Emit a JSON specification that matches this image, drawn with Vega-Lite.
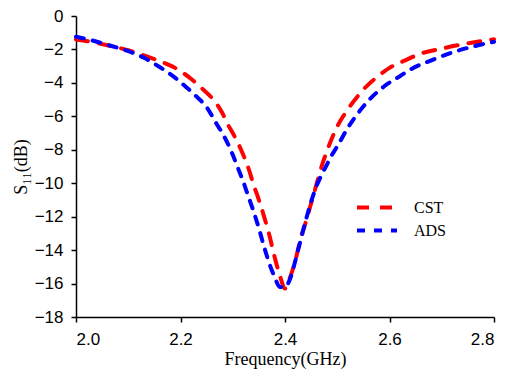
{
  "$schema": "https://vega.github.io/schema/vega-lite/v6.json",
  "width": 418,
  "height": 301,
  "autosize": "none",
  "padding": {"left": 76, "top": 16, "right": 22, "bottom": 62},
  "background": "white",
  "config": {
    "view": {"stroke": null},
    "axis": {
      "domainColor": "black",
      "domainWidth": 1.5,
      "tickColor": "black",
      "tickWidth": 1.5,
      "tickSize": 5,
      "labelColor": "black",
      "labelFont": "Liberation Sans",
      "labelFontSize": 17,
      "titleFont": "Liberation Serif",
      "titleFontSize": 18,
      "titleFontWeight": "normal",
      "titleColor": "black",
      "grid": false
    },
    "legend": {
      "labelFont": "Liberation Serif",
      "labelFontSize": 16,
      "labelColor": "black"
    }
  },
  "data": {
    "values": [
      {"f": 2.00, "s": -1.40, "sim": "CST"},
      {"f": 2.03, "s": -1.55, "sim": "CST"},
      {"f": 2.06, "s": -1.75, "sim": "CST"},
      {"f": 2.10, "s": -2.05, "sim": "CST"},
      {"f": 2.13, "s": -2.35, "sim": "CST"},
      {"f": 2.16, "s": -2.70, "sim": "CST"},
      {"f": 2.18, "s": -2.95, "sim": "CST"},
      {"f": 2.20, "s": -3.30, "sim": "CST"},
      {"f": 2.22, "s": -3.75, "sim": "CST"},
      {"f": 2.24, "s": -4.30, "sim": "CST"},
      {"f": 2.26, "s": -4.90, "sim": "CST"},
      {"f": 2.28, "s": -5.80, "sim": "CST"},
      {"f": 2.29, "s": -6.45, "sim": "CST"},
      {"f": 2.30, "s": -7.00, "sim": "CST"},
      {"f": 2.31, "s": -7.60, "sim": "CST"},
      {"f": 2.32, "s": -8.30, "sim": "CST"},
      {"f": 2.33, "s": -9.10, "sim": "CST"},
      {"f": 2.34, "s": -10.10, "sim": "CST"},
      {"f": 2.35, "s": -11.00, "sim": "CST"},
      {"f": 2.36, "s": -12.00, "sim": "CST"},
      {"f": 2.37, "s": -13.10, "sim": "CST"},
      {"f": 2.38, "s": -14.40, "sim": "CST"},
      {"f": 2.39, "s": -15.50, "sim": "CST"},
      {"f": 2.40, "s": -16.30, "sim": "CST"},
      {"f": 2.41, "s": -15.60, "sim": "CST"},
      {"f": 2.42, "s": -14.60, "sim": "CST"},
      {"f": 2.43, "s": -13.30, "sim": "CST"},
      {"f": 2.44, "s": -12.30, "sim": "CST"},
      {"f": 2.45, "s": -11.20, "sim": "CST"},
      {"f": 2.46, "s": -10.10, "sim": "CST"},
      {"f": 2.47, "s": -9.00, "sim": "CST"},
      {"f": 2.48, "s": -8.10, "sim": "CST"},
      {"f": 2.49, "s": -7.30, "sim": "CST"},
      {"f": 2.50, "s": -6.60, "sim": "CST"},
      {"f": 2.52, "s": -5.60, "sim": "CST"},
      {"f": 2.55, "s": -4.40, "sim": "CST"},
      {"f": 2.58, "s": -3.55, "sim": "CST"},
      {"f": 2.60, "s": -3.10, "sim": "CST"},
      {"f": 2.63, "s": -2.65, "sim": "CST"},
      {"f": 2.66, "s": -2.25, "sim": "CST"},
      {"f": 2.70, "s": -1.95, "sim": "CST"},
      {"f": 2.73, "s": -1.75, "sim": "CST"},
      {"f": 2.76, "s": -1.58, "sim": "CST"},
      {"f": 2.80, "s": -1.39, "sim": "CST"},
      {"f": 2.00, "s": -1.24, "sim": "ADS"},
      {"f": 2.03, "s": -1.45, "sim": "ADS"},
      {"f": 2.06, "s": -1.72, "sim": "ADS"},
      {"f": 2.10, "s": -2.10, "sim": "ADS"},
      {"f": 2.13, "s": -2.50, "sim": "ADS"},
      {"f": 2.16, "s": -3.05, "sim": "ADS"},
      {"f": 2.19, "s": -3.70, "sim": "ADS"},
      {"f": 2.21, "s": -4.23, "sim": "ADS"},
      {"f": 2.23, "s": -4.80, "sim": "ADS"},
      {"f": 2.25, "s": -5.45, "sim": "ADS"},
      {"f": 2.27, "s": -6.50, "sim": "ADS"},
      {"f": 2.28, "s": -7.00, "sim": "ADS"},
      {"f": 2.29, "s": -7.60, "sim": "ADS"},
      {"f": 2.30, "s": -8.30, "sim": "ADS"},
      {"f": 2.31, "s": -9.10, "sim": "ADS"},
      {"f": 2.32, "s": -9.90, "sim": "ADS"},
      {"f": 2.33, "s": -10.80, "sim": "ADS"},
      {"f": 2.34, "s": -11.70, "sim": "ADS"},
      {"f": 2.35, "s": -12.70, "sim": "ADS"},
      {"f": 2.36, "s": -13.80, "sim": "ADS"},
      {"f": 2.37, "s": -14.80, "sim": "ADS"},
      {"f": 2.38, "s": -15.60, "sim": "ADS"},
      {"f": 2.39, "s": -16.20, "sim": "ADS"},
      {"f": 2.40, "s": -16.20, "sim": "ADS"},
      {"f": 2.41, "s": -15.70, "sim": "ADS"},
      {"f": 2.42, "s": -14.60, "sim": "ADS"},
      {"f": 2.43, "s": -13.40, "sim": "ADS"},
      {"f": 2.44, "s": -12.20, "sim": "ADS"},
      {"f": 2.45, "s": -11.10, "sim": "ADS"},
      {"f": 2.46, "s": -10.20, "sim": "ADS"},
      {"f": 2.47, "s": -9.50, "sim": "ADS"},
      {"f": 2.48, "s": -8.90, "sim": "ADS"},
      {"f": 2.49, "s": -8.30, "sim": "ADS"},
      {"f": 2.50, "s": -7.80, "sim": "ADS"},
      {"f": 2.52, "s": -6.70, "sim": "ADS"},
      {"f": 2.54, "s": -5.80, "sim": "ADS"},
      {"f": 2.56, "s": -5.05, "sim": "ADS"},
      {"f": 2.59, "s": -4.20, "sim": "ADS"},
      {"f": 2.62, "s": -3.60, "sim": "ADS"},
      {"f": 2.64, "s": -3.20, "sim": "ADS"},
      {"f": 2.68, "s": -2.65, "sim": "ADS"},
      {"f": 2.73, "s": -2.08, "sim": "ADS"},
      {"f": 2.77, "s": -1.75, "sim": "ADS"},
      {"f": 2.80, "s": -1.54, "sim": "ADS"}
    ]
  },
  "mark": {"type": "line", "strokeWidth": 4, "strokeCap": "round", "interpolate": "monotone"},
  "encoding": {
    "x": {
      "field": "f", "type": "quantitative",
      "scale": {"domain": [2.0, 2.8], "nice": false},
      "axis": {"values": [2.0, 2.2, 2.4, 2.6, 2.8], "format": ".1f", "title": "Frequency(GHz)", "labelPadding": 9, "titlePadding": 3}
    },
    "y": {
      "field": "s", "type": "quantitative",
      "scale": {"domain": [-18, 0], "nice": false},
      "axis": {"values": [-18, -16, -14, -12, -10, -8, -6, -4, -2, 0], "title": "S₁₁(dB)", "labelPadding": 8, "titlePadding": 4}
    },
    "color": {
      "field": "sim", "type": "nominal",
      "scale": {"domain": ["CST", "ADS"], "range": ["#ff0000", "#0000ff"]},
      "legend": {"title": null, "orient": "none", "legendX": 279, "legendY": 180, "symbolType": "stroke", "symbolSize": 1600, "symbolStrokeWidth": 4, "labelOffset": 15, "rowPadding": 0, "labelLimit": 60, "symbolOffset": 0, "clipHeight": 23}
    },
    "strokeDash": {
      "field": "sim", "type": "nominal",
      "scale": {"domain": ["CST", "ADS"], "range": [[12, 11], [8, 9]]},
      "legend": null
    }
  }
}
